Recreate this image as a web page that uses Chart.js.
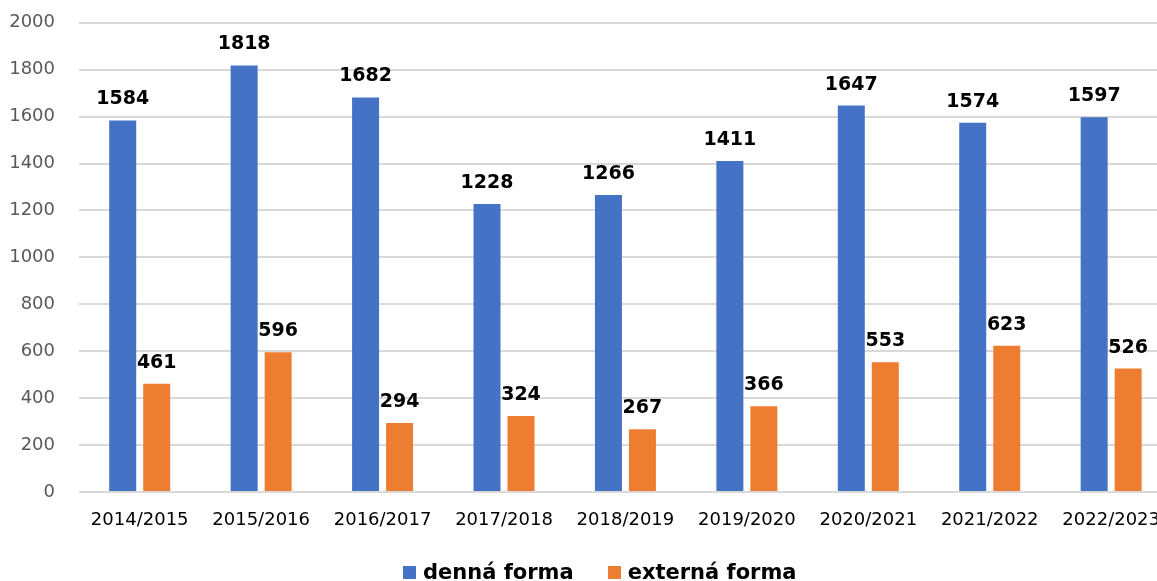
<!DOCTYPE html>
<html>
<head>
<meta charset="utf-8">
<script src="https://cdn.jsdelivr.net/npm/chart.js@4"></script>
<style>
  html, body { margin: 0; padding: 0; background: #fff; overflow: hidden; }
  #wrap { position: relative; width: 1157px; height: 581px; overflow: hidden; }
  #box { position: absolute; left: 0; top: -12px; width: 1178px; height: 593px; }
  #legend { position: absolute; left: 403px; top: 559px; display: flex; font: bold 21px "DejaVu Sans", sans-serif; color: #000; }
  #legend .item { display: flex; align-items: center; margin-right: 34px; line-height: 26px; }
  #legend .sw { width: 13px; height: 13px; margin-right: 7px; }
</style>
</head>
<body>
<div id="wrap">
  <div id="box"><canvas id="chart"></canvas></div>
  <div id="legend"></div>
</div>
<script>
var years = ["2014/2015", "2015/2016", "2016/2017", "2017/2018", "2018/2019", "2019/2020", "2020/2021", "2021/2022", "2022/2023"];
var dennaForma = [1584, 1818, 1682, 1228, 1266, 1411, 1647, 1574, 1597];
var externaForma = [461, 596, 294, 324, 267, 366, 553, 623, 526];
var seriesNames = ["denná forma", "externá forma"];
var seriesColors = ["#4472C4", "#ED7D31"];

// draws the value above each bar
var valueLabels = {
  id: "valueLabels",
  afterDatasetsDraw: function (chart) {
    var ctx = chart.ctx;
    ctx.save();
    ctx.font = "bold 19px 'DejaVu Sans', sans-serif";
    ctx.fillStyle = "#000";
    ctx.textAlign = "center";
    ctx.textBaseline = "alphabetic";
    chart.data.datasets.forEach(function (ds, i) {
      chart.getDatasetMeta(i).data.forEach(function (bar, j) {
        ctx.fillText(ds.data[j], bar.x, bar.y - 16);
      });
    });
    ctx.restore();
  }
};

var ctx = document.getElementById("chart").getContext("2d");
var chart = new Chart(ctx, {
  type: "bar",
  data: {
    labels: years,
    datasets: [
      { label: seriesNames[0], data: dennaForma, backgroundColor: seriesColors[0] },
      { label: seriesNames[1], data: externaForma, backgroundColor: seriesColors[1] }
    ]
  },
  options: {
    responsive: true,
    maintainAspectRatio: false,
    animation: false,
    datasets: { bar: { categoryPercentage: 0.56, barPercentage: 0.794 } },
    layout: { padding: { top: 0, right: 0, left: 0, bottom: 0 } },
    plugins: { legend: { display: false }, tooltip: { enabled: false } },
    scales: {
      x: {
        grid: { display: false, drawTicks: false },
        border: { display: false },
        ticks: { color: "#000", padding: 18, font: { family: "DejaVu Sans", size: 18 }, maxRotation: 0, autoSkip: false },
        afterFit: function (scale) { scale.height = 89; }
      },
      y: {
        min: 0,
        max: 2000,
        ticks: {
          stepSize: 200,
          color: "#595959",
          padding: 24,
          font: { family: "DejaVu Sans", size: 18 },
          callback: function (v) { return String(v); }
        },
        grid: { color: "#d9d9d9", lineWidth: 2, drawTicks: false },
        border: { display: false },
        afterFit: function (scale) { scale.width = 79; }
      }
    }
  },
  plugins: [valueLabels]
});

// legend below the chart
var legend = document.getElementById("legend");
seriesNames.forEach(function (name, i) {
  var item = document.createElement("div");
  item.className = "item";
  var sw = document.createElement("span");
  sw.className = "sw";
  sw.style.background = seriesColors[i];
  item.appendChild(sw);
  item.appendChild(document.createTextNode(name));
  legend.appendChild(item);
});
</script>
</body>
</html>
